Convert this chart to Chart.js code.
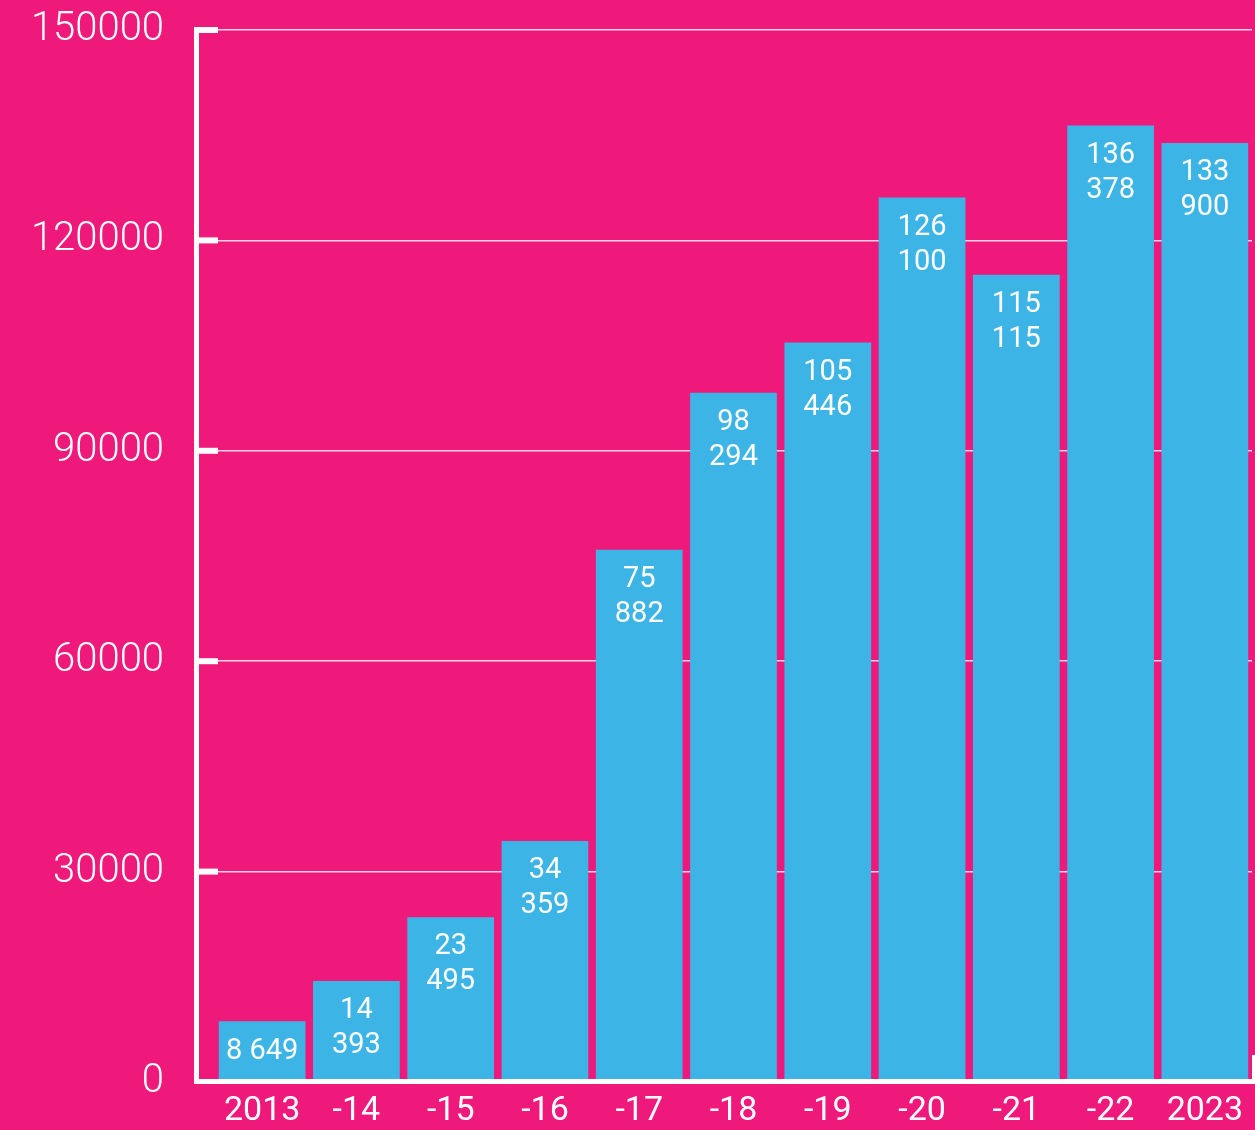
<!DOCTYPE html>
<html>
<head>
<meta charset="utf-8">
<script src="https://cdn.jsdelivr.net/npm/chart.js@4.4.0/dist/chart.umd.min.js"></script>
<style>
    html, body { margin: 0; padding: 0; background: #EE197B; }
    #wrap { width: 1255px; height: 1130px; }
</style>
</head>
<body>
<div id="wrap"><canvas id="myChart" width="1255" height="1130"></canvas></div>
<script>
// Years on the x axis
const years = ["2013", "-14", "-15", "-16", "-17", "-18", "-19", "-20", "-21", "-22", "2023"];

// Values per year
const amounts = [8649, 14393, 23495, 34359, 75882, 98294, 105446, 126100, 115115, 136378, 133900];

// Y axis ticks
const yTicks = [0, 30000, 60000, 90000, 120000, 150000];

const pink = '#EE197B';
const blue = '#3DB4E6';

// split a number into the two lines shown in the bar
function splitLabel(v) {
    const thousands = Math.floor(v / 1000);
    const rest = String(v % 1000).padStart(3, '0');
    if (v < 10000) return [thousands + ' ' + rest];
    return [String(thousands), rest];
}

// axis lines, tick stubs and labels inside the bars
const decorPlugin = {
    id: 'decor',
    afterDatasetsDraw(chart) {
        const ctx = chart.ctx;
        const area = chart.chartArea;
        const y = chart.scales.y;
        const axisX = area.left - 18;
        const topY = y.getPixelForValue(yTicks[yTicks.length - 1]);
        ctx.save();
        ctx.fillStyle = '#ffffff';
        // vertical axis
        ctx.fillRect(axisX - 3, topY - 3, 5, area.bottom - topY + 5);
        // stubs
        yTicks.forEach(t => {
            if (t === 0) return;
            const py = y.getPixelForValue(t);
            ctx.fillRect(axisX, py - 3, 21, 6);
        });
        // bottom axis
        ctx.fillRect(axisX - 3, area.bottom - 3, chart.width - axisX + 3, 5);
        // small end stub on the right
        ctx.fillRect(area.right, area.bottom - 27, 3, 27);

        // value labels
        const meta = chart.getDatasetMeta(0);
        ctx.font = '400 29px Roboto';
        ctx.textAlign = 'center';
        ctx.textBaseline = 'middle';
        meta.data.forEach((bar, i) => {
            const lines = splitLabel(amounts[i]);
            lines.forEach((line, j) => {
                ctx.fillText(line, bar.x, bar.y + 30 + j * 35);
            });
        });
        ctx.restore();
    }
};

const ctx = document.getElementById('myChart').getContext('2d');
const chart = new Chart(ctx, {
    type: 'bar',
    data: {
        labels: years,
        datasets: [{
            data: amounts,
            backgroundColor: blue,
            borderWidth: 0,
            barPercentage: 0.92,
            categoryPercentage: 1.0
        }]
    },
    options: {
        responsive: false,
        animation: false,
        layout: {
            padding: { top: 30, right: 3, left: 0, bottom: 0 }
        },
        plugins: {
            legend: { display: false },
            tooltip: { enabled: false }
        },
        scales: {
            x: {
                grid: { display: false },
                border: { display: false },
                ticks: {
                    color: '#ffffff',
                    font: { family: 'Roboto', size: 34, weight: '400' },
                    padding: 1,
                    maxRotation: 0,
                    autoSkip: false
                },
                afterFit(scale) {
                    scale.height = 48;
                    scale.paddingLeft = 0;
                    scale.paddingRight = 0;
                }
            },
            y: {
                min: 0,
                max: 150000,
                grid: {
                    color: 'rgba(255,255,255,0.8)',
                    lineWidth: 1.5,
                    drawTicks: false
                },
                border: { display: false },
                ticks: {
                    stepSize: 30000,
                    color: '#ffffff',
                    font: { family: 'Roboto', size: 40, weight: '300' },
                    padding: 51,
                    callback: v => String(v)
                },
                afterFit(scale) {
                    scale.width = 215;
                    scale.paddingTop = 0;
                    scale.paddingBottom = 0;
                }
            }
        }
    },
    plugins: [decorPlugin]
});
</script>
</body>
</html>
